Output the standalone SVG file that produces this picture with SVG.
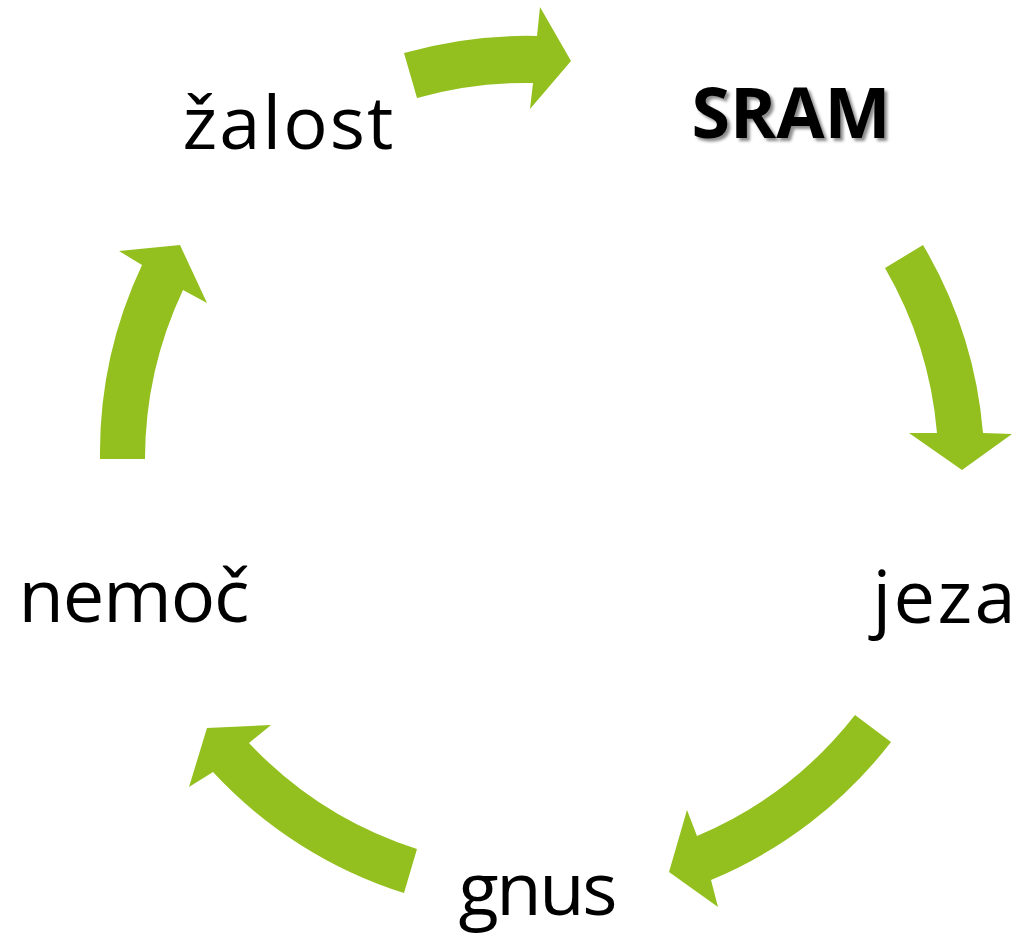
<svg xmlns="http://www.w3.org/2000/svg" width="1028" height="936" viewBox="0 0 1028 936">
  <style>
    .lbl { font-family: "Open Sans", "Noto Sans", "DejaVu Sans", sans-serif; font-size: 74px; fill: #000; text-anchor: middle; }
    .bold { font-weight: bold; font-size: 70px; filter: url(#shadow); }
    .arrow { fill: #93C01F; stroke: none; }
  </style>
  <defs>
    <filter id="shadow" x="-10%" y="-20%" width="130%" height="150%">
      <feDropShadow dx="3" dy="3" stdDeviation="1.8" flood-color="#000" flood-opacity="0.45"/>
    </filter>
  </defs>
  <rect width="1028" height="936" fill="#fff"/>

  <!-- curved block arrows of the cycle, clockwise -->
  <g id="connectors">
    <path class="arrow" d="M404,53 A441,441 0 0 1 537,36 L540,7 L571,61 L530,109 L533,83 A397,397 0 0 0 417,98 Z"/>
    <path class="arrow" d="M923,245 A441,441 0 0 1 983,433 L1012,434 L962,470 L909,433 L937,433 A397,397 0 0 0 885,268 Z"/>
    <path class="arrow" d="M891,742 A441,441 0 0 1 711,880 L718,907 L669,872 L687,810 L697,836 A397,397 0 0 0 855,715 Z"/>
    <path class="arrow" d="M404,893 A441,441 0 0 1 213,772 L189,787 L207,728 L271,725 L249,743 A397,397 0 0 0 417,849 Z"/>
    <path class="arrow" d="M100,459 A441,441 0 0 1 142,265 L119,251 L180,245 L207,303 L183,290 A397,397 0 0 0 145,459 Z"/>
  </g>

  <g id="node-sram">
    <text class="lbl bold" x="791" y="138">SRAM</text>
  </g>
  <g id="node-jeza">
    <text class="lbl" x="944" y="623" textLength="143" lengthAdjust="spacing">jeza</text>
  </g>
  <g id="node-gnus">
    <text class="lbl" x="538" y="915" textLength="159" lengthAdjust="spacing">gnus</text>
  </g>
  <g id="node-nemoc">
    <text class="lbl" x="134" y="622" textLength="231" lengthAdjust="spacing">nemoč</text>
  </g>
  <g id="node-zalost">
    <text class="lbl" x="288" y="149" textLength="211" lengthAdjust="spacing">žalost</text>
  </g>
</svg>
